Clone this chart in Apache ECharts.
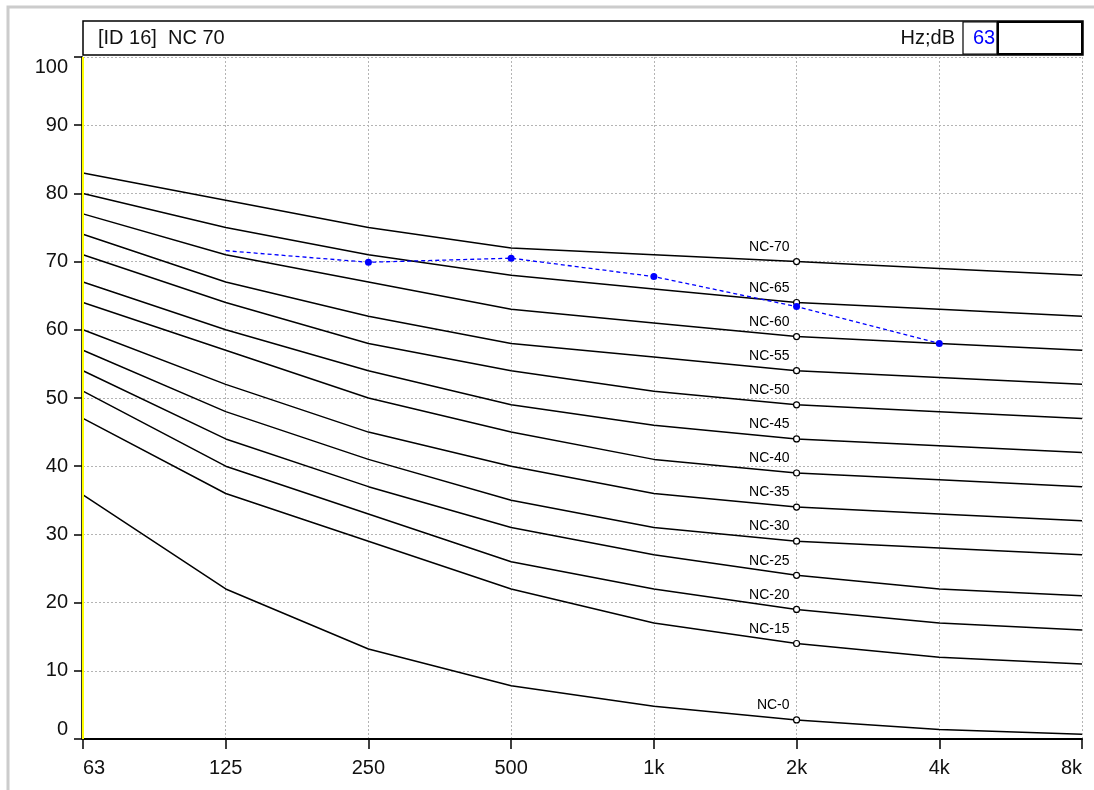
<!DOCTYPE html>
<html>
<head>
<meta charset="utf-8">
<style>
  html, body { margin: 0; padding: 0; background: #fff; }
  #chart { width: 1094px; height: 790px; }
</style>
<script src="https://cdn.jsdelivr.net/npm/echarts@6/dist/echarts.min.js"></script>
</head>
<body>
<div id="chart"></div>
<script>
// octave band centre frequencies (x axis)
var freqs = ["63", "125", "250", "500", "1k", "2k", "4k", "8k"];

// NC reference curves, dB per band
var nc70 = [83, 79, 75, 72, 71, 70, 69, 68];
var nc65 = [80, 75, 71, 68, 66, 64, 63, 62];
var nc60 = [77, 71, 67, 63, 61, 59, 58, 57];
var nc55 = [74, 67, 62, 58, 56, 54, 53, 52];
var nc50 = [71, 64, 58, 54, 51, 49, 48, 47];
var nc45 = [67, 60, 54, 49, 46, 44, 43, 42];
var nc40 = [64, 57, 50, 45, 41, 39, 38, 37];
var nc35 = [60, 52, 45, 40, 36, 34, 33, 32];
var nc30 = [57, 48, 41, 35, 31, 29, 28, 27];
var nc25 = [54, 44, 37, 31, 27, 24, 22, 21];
var nc20 = [51, 40, 33, 26, 22, 19, 17, 16];
var nc15 = [47, 36, 29, 22, 17, 14, 12, 11];
var nc0 = [35.8, 22, 13.2, 7.8, 4.8, 2.8, 1.4, 0.7];

var ncNames = ["NC-70", "NC-65", "NC-60", "NC-55", "NC-50", "NC-45", "NC-40",
  "NC-35", "NC-30", "NC-25", "NC-20", "NC-15", "NC-0"];
var ncCurves = [nc70, nc65, nc60, nc55, nc50, nc45, nc40, nc35, nc30, nc25, nc20, nc15, nc0];

// measured spectrum (no value at 63 Hz)
var measured = ["-", 71.6, 69.9, 70.5, 67.8, 63.4, 58.0, "-"];

var yTicks = { min: 0, max: 100, interval: 10 };
var labelBand = "2k"; // band where the curve names sit

var FONT = "Liberation Sans, Arial, sans-serif";

var chart = echarts.init(document.getElementById("chart"));

// NC curves: plain black lines, one marked point + name at 2k
var series = ncCurves.map(function (curve, i) {
  return {
    name: ncNames[i],
    type: "line",
    symbol: "none",
    z: 2,
    lineStyle: { color: "#000", width: 1.5 },
    itemStyle: { color: "#fff", borderColor: "#000", borderWidth: 1.2 },
    data: curve.map(function (v, j) {
      if (freqs[j] !== labelBand) return v;
      return {
        value: v,
        symbol: "circle",
        symbolSize: 6,
        label: {
          show: true,
          formatter: ncNames[i],
          position: "top",
          align: "right",
          offset: [-7, 1],
          color: "#000",
          fontSize: 14,
          fontFamily: FONT,
        },
      };
    }),
  };
});

// yellow marker along the left edge (63 Hz)
series[0].markLine = {
  silent: true,
  symbol: "none",
  label: { show: false },
  lineStyle: { color: "#ffff00", width: 2, type: "solid" },
  data: [{ xAxis: "63" }],
};

series.push({
  name: "measured",
  type: "line",
  z: 5,
  symbol: "circle",
  symbolSize: 7,
  lineStyle: { color: "#0000ff", width: 1.3, type: [4, 3] },
  itemStyle: { color: "#0000ff" },
  data: measured.map(function (v, j) {
    // the first measured band is drawn without a dot
    return j === 1 ? { value: v, symbolSize: 0 } : v;
  }),
});

chart.setOption({
  animation: false,
  grid: { left: 83, right: 12, top: 57, bottom: 51 },
  xAxis: {
    type: "category",
    data: freqs,
    boundaryGap: false,
    axisLine: { lineStyle: { color: "#000", width: 2 } },
    axisTick: { show: true, length: 10, lineStyle: { color: "#000", width: 1.5 } },
    axisLabel: {
      color: "#111",
      fontSize: 20,
      fontFamily: FONT,
      margin: 19,
      alignMinLabel: "left",
      alignMaxLabel: "right",
    },
    splitLine: { show: true, lineStyle: { color: "#b4b4b4", width: 1, type: [2, 2] } },
  },
  yAxis: {
    type: "value",
    min: yTicks.min,
    max: yTicks.max,
    interval: yTicks.interval,
    offset: 1,
    axisLine: { show: true, lineStyle: { color: "#333", width: 2 } },
    axisTick: { show: true, length: 8, lineStyle: { color: "#000", width: 1.5 } },
    axisLabel: {
      color: "#111",
      fontSize: 20,
      fontFamily: FONT,
      margin: 14,
      verticalAlignMinLabel: "bottom",
      verticalAlignMaxLabel: "top",
    },
    splitLine: { show: true, lineStyle: { color: "#b4b4b4", width: 1, type: [2, 2] } },
  },
  graphic: [
    // outer frame (top and left edges)
    {
      type: "polyline",
      shape: { points: [[8, 790], [8, 7], [1094, 7]] },
      style: { stroke: "#cccccc", lineWidth: 3, fill: null },
    },
    // header bar
    {
      type: "rect",
      shape: { x: 83, y: 21, width: 1000, height: 34 },
      style: { fill: "#fff", stroke: "#000", lineWidth: 1.5 },
    },
    {
      type: "text",
      left: 98,
      top: 28,
      style: { text: "[ID 16]  NC 70", font: "20px " + FONT, fill: "#111" },
    },
    {
      type: "text",
      right: 1094 - 955,
      top: 28,
      style: { text: "Hz;dB", font: "20px " + FONT, fill: "#111" },
    },
    {
      type: "rect",
      shape: { x: 963, y: 22, width: 34, height: 32 },
      style: { fill: null, stroke: "#000", lineWidth: 1.2 },
    },
    {
      type: "text",
      left: 973,
      top: 28,
      style: { text: "63", font: "20px " + FONT, fill: "#0000ff" },
    },
    {
      type: "rect",
      shape: { x: 998, y: 22, width: 84, height: 32 },
      style: { fill: null, stroke: "#000", lineWidth: 2 },
    },
  ],
  series: series,
});
</script>
</body>
</html>
